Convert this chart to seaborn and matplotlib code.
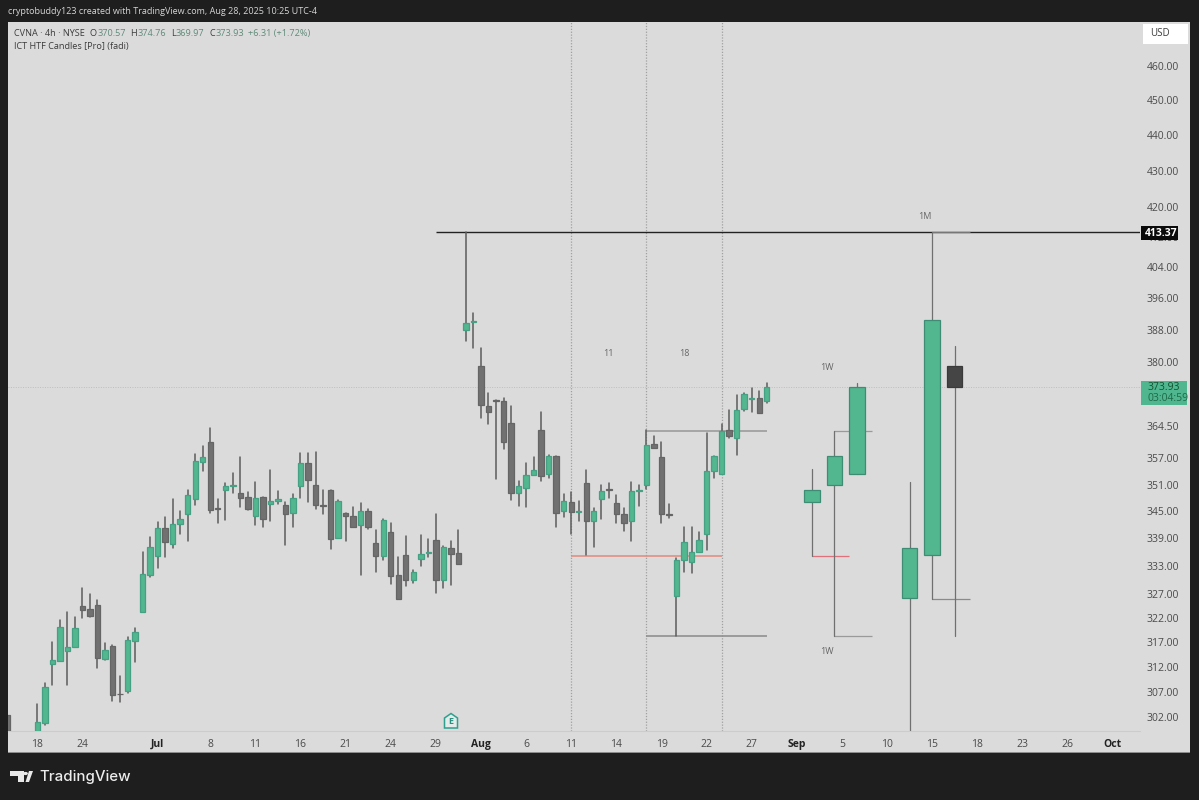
import matplotlib
matplotlib.use("Agg")
import matplotlib.pyplot as plt
from matplotlib.patches import Rectangle, Polygon, Circle
from matplotlib.ticker import FixedLocator, FixedFormatter, NullLocator
import numpy as np
import pandas as pd
import seaborn as sns

# ---- 4h candles (prices)
opens = [299.3,300.9,312.5,313.2,315.2,316.0,324.4,323.9,324.7,313.5,
         316.2,306.6,307.1,317.3,323.2,331.1,335.2,341.3,337.7,342.2,
         344.4,347.8,356.2,360.9,345.7,349.8,350.7,349.0,348.1,344.0,
         348.3,346.7,347.2,346.3,344.7,350.7,356.0,351.0,346.4,349.7,
         339.0,344.6,344.0,341.9,345.1,338.1,335.1,340.3,331.0,335.3,
         329.9,334.6,335.8,338.6,330.1,336.9,335.8,388.0,390.0,378.9,
         369.4,370.7,370.5,365.3,349.0,350.2,353.1,363.5,353.5,357.5,
         345.1,347.0,344.9,351.4,342.8,347.7,350.0,346.9,344.5,342.9,
         349.5,350.9,360.3,357.4,344.3,326.7,334.4,333.9,336.1,340.0,
         354.1,353.4,363.5,361.8,368.5,370.9,371.2,370.57]
highs = [304.6,308.7,317.0,321.5,323.2,322.2,328.2,327.0,325.8,316.9,
         316.5,310.1,318.0,319.9,336.0,339.2,342.7,343.8,347.8,345.1,
         349.7,358.0,359.9,364.0,347.7,351.3,353.7,357.4,349.4,351.7,
         348.3,354.4,349.6,347.1,348.9,358.3,358.3,358.5,349.7,349.7,
         347.5,344.6,345.9,346.8,345.6,340.8,343.3,342.3,334.9,339.5,
         332.1,339.7,338.8,344.5,337.4,338.5,340.8,413.37,392.2,383.3,
         372.4,370.7,371.2,369.4,351.8,355.9,357.3,367.9,357.7,357.5,
         348.8,349.3,347.2,354.3,345.7,350.8,351.4,348.7,345.7,351.6,
         351.0,363.6,362.2,360.8,346.7,334.7,341.6,341.4,340.5,362.9,
         357.5,365.1,368.3,372.0,372.4,373.7,373.0,374.76]
lows = [299.3,300.4,308.3,313.2,308.4,316.0,321.9,322.2,311.8,313.35,
        305.1,305.0,306.8,313.0,323.2,330.6,332.5,335.0,336.9,340.0,
        338.5,346.3,354.1,344.7,342.4,343.0,349.1,346.0,345.3,342.0,
        341.6,342.8,346.7,337.6,341.4,348.0,347.1,345.5,344.3,336.7,
        339.0,338.4,341.5,331.1,341.0,331.8,334.2,329.1,326.0,328.8,
        329.4,332.9,335.0,327.3,328.3,329.0,333.4,385.2,383.5,366.5,
        365.1,352.3,359.1,347.6,346.2,346.0,353.1,351.9,352.5,341.5,
        343.8,339.9,342.8,335.4,337.1,343.3,348.0,342.5,340.7,338.4,
        346.2,350.1,359.4,342.3,343.5,318.3,331.7,331.4,336.1,336.4,
        352.5,353.4,361.8,357.7,368.0,367.8,367.6,369.97]
closes = [301.0,308.0,313.4,320.1,316.0,319.9,323.7,322.5,313.7,315.4,
          306.3,306.5,317.4,319.0,331.2,337.1,341.3,338.2,342.2,343.3,
          348.6,356.3,357.3,345.2,345.4,350.7,350.9,348.0,345.6,347.9,
          343.3,347.4,347.7,344.4,348.0,356.0,352.0,346.3,346.2,338.8,
          347.3,344.0,341.6,345.1,341.6,335.1,343.0,330.9,326.0,329.9,
          331.7,335.7,336.0,330.1,337.2,335.6,333.4,389.7,390.2,369.5,
          367.8,370.5,360.7,349.0,350.7,353.2,354.4,353.0,357.5,344.6,
          347.3,344.8,345.1,342.9,345.0,349.6,349.8,344.5,342.4,349.6,
          349.7,360.2,359.4,344.4,344.2,334.4,338.3,336.0,338.6,354.0,
          357.5,363.4,362.3,368.3,372.1,371.2,367.6,373.93]

# ---- candle cut off by the left edge of the chart
edge_bar = [-4]
edge_open = [302.5]
edge_close = [299.3]

# ---- higher time-frame candles
htf_bars   = [103, 106, 109, 116, 119, 122]
htf_opens  = [347.1, 350.9, 353.5, 326.2, 335.4, 379.0]
htf_highs  = [354.5, 363.4, 374.8, 351.5, 413.37, 383.9]
htf_lows   = [335.2, 318.3, 353.5, 299.3, 325.9, 318.3]
htf_closes = [349.7, 357.6, 373.93, 337.0, 390.3, 373.93]

# ---- levels: (start bar, end bar, price)
level_black = (53, 146.6, 413.37)
level_hi = (81, 97, 363.4)
level_red = (71, 91, 335.2)
level_lo = (81, 97, 318.3)
w_level_hi = (106, 111, 363.4)
w_level_red = (103, 108, 335.2)
w_level_lo = (106, 111, 318.3)
m_level_hi = (119, 124, 413.37)
m_level_lo = (119, 124, 325.9)
session_bars = [71, 81, 91]
last_price = 373.93

# ---- axis labels
price_ticks = [460, 450, 440, 430, 420, 412, 404, 396, 388, 380, 364.5, 357,
               351, 345, 339, 333, 327, 322, 317, 312, 307, 302]
time_tick_bars = [0, 6, 16, 23, 29, 35, 41, 47, 53, 59, 65, 71, 77, 83, 89, 95,
                  101, 107, 113, 119, 125, 131, 137, 143]
time_tick_labels = ["18", "24", "Jul", "8", "11", "16", "21", "24", "29", "Aug",
                    "6", "11", "14", "19", "22", "27", "Sep", "5", "10", "15",
                    "18", "23", "26", "Oct"]
bold_labels = ["Jul", "Aug", "Sep", "Oct"]

W, H = 1199, 800
FONT = "Open Sans"
DARK = "#1e1e1e"; PANEL = "#dbdbdb"
GREEN = "#52b68f"; GREEN_E = "#45a084"; GRAY = "#717171"; GRAY_E = "#656565"
WICK = "#5c5c5c"; TEXT = "#3c3c3c"

sns.set_theme(style="white", rc={"font.family": FONT})
fig = plt.figure(figsize=(W / 100, H / 100), dpi=100, facecolor=DARK)

def fx(x): return x / W
def fy(y): return 1 - y / H

fig.patches.append(Rectangle((fx(8), fy(753)), (1190 - 8) / W, (753 - 22) / H,
                             transform=fig.transFigure, fc=PANEL, ec="none", zorder=-5))
fig.patches.append(Rectangle((fx(8), fy(753)), (1190 - 8) / W, 1.5 / H,
                             transform=fig.transFigure, fc="#8c8c8c", ec="none", zorder=-4))

ax = fig.add_axes([fx(8), fy(731), (1140 - 8) / W, (731 - 22) / H])
ax.patch.set_alpha(0)

df = pd.DataFrame({"bar": np.arange(len(opens)), "open": opens, "high": highs,
                   "low": lows, "close": closes})
df["up"] = df["close"] >= df["open"]
wicks = df.melt(id_vars="bar", value_vars=["high", "low"], value_name="price")
sns.lineplot(data=wicks, x="bar", y="price", units="bar", estimator=None,
             color=WICK, lw=1.1, ax=ax, legend=False, sort=False, zorder=3)

htf = pd.DataFrame({"bar": htf_bars, "open": htf_opens, "high": htf_highs,
                    "low": htf_lows, "close": htf_closes})
htf["up"] = htf["close"] >= htf["open"]
htf_wicks = htf.melt(id_vars="bar", value_vars=["high", "low"], value_name="price")
sns.lineplot(data=htf_wicks, x="bar", y="price", units="bar", estimator=None,
             color="#707070", lw=0.9, ax=ax, legend=False, sort=False, zorder=3)

def bodies(d, width, up_fc, up_ec, dn_fc, dn_ec):
    ax.bar(d["bar"], (d["close"] - d["open"]).abs(),
           bottom=d[["open", "close"]].min(axis=1), width=width,
           color=[up_fc if u else dn_fc for u in d["up"]],
           edgecolor=[up_ec if u else dn_ec for u in d["up"]], linewidth=0.9, zorder=4)

bodies(df, 0.72, GREEN, GREEN_E, GRAY, GRAY_E)
bodies(htf, 2.05, GREEN, "#3f8c75", "#454545", "#3a3a3a")
edge = pd.DataFrame({"bar": edge_bar, "open": edge_open, "close": edge_close})
edge["up"] = edge["close"] >= edge["open"]
bodies(edge, 0.72, GREEN, GREEN_E, GRAY, GRAY_E)

for b in session_bars:
    ax.axvline(b, color="#a0a0a0", lw=0.9, ls=(0, (1, 1.3)), zorder=1)
ax.axhline(last_price, color="#a9c9bb", lw=0.7, ls=(0, (1, 1.5)), zorder=1)

def level(spec, color, lw):
    ax.plot(spec[:2], [spec[2], spec[2]], color=color, lw=lw, zorder=2, solid_capstyle="butt")

level(level_black, "#222222", 1.0)
level(level_hi, "#969696", 1.1)
level(level_red, "#e08a7c", 1.1)
level(level_lo, "#8a8a8a", 1.1)
level(w_level_hi, "#9a9a9a", 0.9)
level(w_level_red, "#e0707a", 0.9)
level(w_level_lo, "#9a9a9a", 0.9)
level(m_level_hi, "#777777", 0.9)
level(m_level_lo, "#8a8a8a", 0.9)

ax.set_yscale("log")
ax.set_xlim((8 - 37.3) / 7.52, (1140 - 37.3) / 7.52)
ax.set_ylim(299.3, 473.4)
ax.yaxis.tick_right()
ax.yaxis.set_major_locator(FixedLocator(price_ticks))
ax.yaxis.set_major_formatter(FixedFormatter([f"{p:.2f}" for p in price_ticks]))
ax.yaxis.set_minor_locator(NullLocator())
ax.xaxis.set_major_locator(FixedLocator(time_tick_bars))
ax.xaxis.set_major_formatter(FixedFormatter(time_tick_labels))
ax.tick_params(axis="y", length=0, pad=5, labelsize=7.5, labelcolor="#4a4a4a", right=False)
ax.tick_params(axis="x", length=0, pad=5.5, labelsize=7.5, labelcolor="#4a4a4a", bottom=False)
for lab, name in zip(ax.get_xticklabels(), time_tick_labels):
    if name in bold_labels:
        lab.set_fontweight("bold"); lab.set_color("#222222")
ax.set_xlabel(""); ax.set_ylabel("")
for s in ["top", "left", "right"]:
    ax.spines[s].set_visible(False)
ax.spines["bottom"].set_color("#cccccc"); ax.spines["bottom"].set_linewidth(0.8)

def T(x, y, s, **kw):
    kw.setdefault("fontsize", 6.6); kw.setdefault("color", TEXT)
    kw.setdefault("va", "center"); kw.setdefault("family", FONT)
    return fig.text(fx(x), fy(y), s, **kw)

# header
T(8, 12, "cryptobuddy123 created with TradingView.com, Aug 28, 2025 10:25 UTC-4",
  color="#d6d6d6", fontsize=6.5)
T(14, 33.5, "CVNA · 4h · NYSE")
for x, s, c in [(90, "O", TEXT), (97.5, "370.57", "#5f8a78"), (130, "H", TEXT), (137.5, "374.76", "#5f8a78"),
                (171, "L", TEXT), (176, "369.97", "#5f8a78"), (209, "C", TEXT), (215.5, "373.93", "#5f8a78"),
                (248, "+6.31 (+1.72%)", "#5f8a78")]:
    T(x, 33.5, s, color=c)
T(14, 46, "ICT HTF Candles [Pro] (fadi)")

# annotations
for x, y, s in [(608, 353.5, "11"), (684, 353.5, "18"), (827, 368, "1W"), (827, 651, "1W"), (925, 216.5, "1M")]:
    T(x, y, s, ha="center", fontsize=6.5, color="#666666")

# price scale badges
fig.patches.append(Rectangle((fx(1143), fy(44)), 45 / W, 20 / H, transform=fig.transFigure,
                             fc="white", ec="none", zorder=5))
T(1150, 34, "USD", fontsize=7, zorder=6)
fig.patches.append(Rectangle((fx(1141), fy(239.5)), 37 / W, 13.5 / H, transform=fig.transFigure,
                             fc="#0a0a0a", ec="none", zorder=5))
T(1145, 233, "413.37", color="white", fontweight="bold", fontsize=7.5, zorder=6)
fig.patches.append(Rectangle((fx(1141), fy(405)), 46 / W, 24 / H, transform=fig.transFigure,
                             fc="#4fb68f", ec="none", zorder=5))
T(1147, 387, "373.93", color="#14522f", fontsize=7.5, zorder=6)
T(1147, 398.5, "03:04:59", color="#1d6a45", fontsize=7.5, zorder=6)

# earnings marker
pts = [(444.5, 718), (451, 713.5), (457.5, 718), (457.5, 728), (444.5, 728)]
fig.patches.append(Polygon([(fx(a), fy(b)) for a, b in pts], closed=True, transform=fig.transFigure,
                           fc="#e3ecea", ec="#2fa08d", lw=1.1, zorder=5))
T(451, 721.5, "E", ha="center", fontsize=6.5, color="#2b8f80", fontweight="bold", zorder=6)

# footer logo
logo = "#e8e8e8"
for pts in ([(10, 771), (24, 771), (24, 782), (18, 782), (18, 776), (10, 776)],
            [(25.5, 782), (29, 771), (33, 771), (29, 782)]):
    fig.patches.append(Polygon([(fx(a), fy(b)) for a, b in pts], closed=True,
                               transform=fig.transFigure, fc=logo, ec="none", zorder=5))
fig.patches.append(Circle((fx(25.5), fy(773.5)), 2.4 / W, transform=fig.transFigure,
                          fc=logo, ec="none", zorder=5))
T(39, 777, "TradingView", color="#ececec", fontsize=10.8, fontweight="medium", family="Inter")

fig.savefig("out.png", dpi=100, facecolor=DARK)
